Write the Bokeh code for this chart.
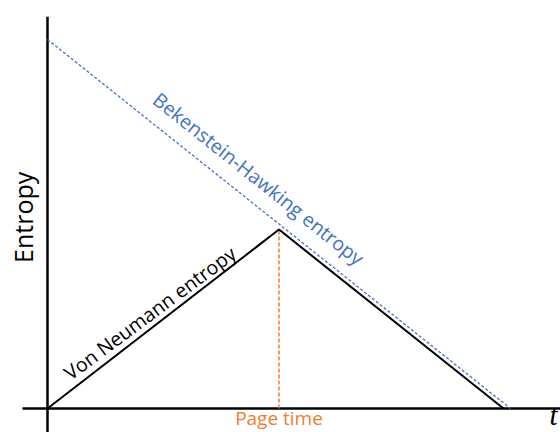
from bokeh.plotting import figure
from bokeh.models import Range1d
from bokeh.core.properties import value
from bokeh.embed import file_html
from bokeh.resources import INLINE

# Data (time in units of the evaporation time, entropy in units of initial BH entropy)
bh_t = [0.0, 1.0]
bh_S = [1.0, 0.0]
vn_t = [0.0, 0.5, 0.985]
vn_S = [0.0, 0.485, 0.0]
page_time = 0.5
page_S = 0.485

p = figure(width=560, height=432, output_backend="svg", toolbar_location=None,
           x_range=Range1d(-0.1015, 1.108), y_range=Range1d(-0.065, 1.1057),
           min_border=0)
p.xaxis.visible = False
p.yaxis.visible = False
p.grid.visible = False
p.outline_line_color = None
p.background_fill_color = "white"
p.border_fill_color = "white"

# axes drawn as lines
p.line([0, 0], [-0.07, 1.062], line_color="black", line_width=2.5)
p.line([-0.054, 1.11], [0, 0], line_color="black", line_width=2.5)

# Page time marker
p.line([page_time, page_time], [0, page_S], line_color="#ED7D31", line_width=1.5, line_dash="4 2")

# Bekenstein-Hawking
p.line(bh_t, bh_S, line_color="#4472C4", line_width=1.3, line_dash="3 2")
# Von Neumann (Page curve)
p.line(vn_t, vn_S, line_color="black", line_width=2)

font = value("Open Sans")
p.text(x=[0.456], y=[0.623], text=["Bekenstein-Hawking entropy"], angle=-0.674,
       text_font=font, text_font_size="19.6px", text_color="#4472C4",
       text_align="center", text_baseline="middle")
p.text(x=[0.221], y=[0.259], text=["Von Neumann entropy"], angle=0.64,
       text_font=font, text_font_size="19.6px", text_color="black",
       text_align="center", text_baseline="middle")
p.text(x=[-0.053], y=[0.518], text=["Entropy"], angle=1.5708,
       text_font=font, text_font_size="25px", text_color="black",
       text_align="center", text_baseline="middle")
p.text(x=[page_time], y=[-0.0615], text=["Page time"],
       text_font=font, text_font_size="19px", text_color="#ED7D31",
       text_align="center", text_baseline="bottom")
p.text(x=[1.093], y=[-0.0615], text=["t"],
       text_font=value("Liberation Serif"), text_font_style="italic",
       text_font_size="29px", text_color="black",
       text_align="center", text_baseline="bottom")

open("out.html", "w").write(file_html(p, INLINE))
